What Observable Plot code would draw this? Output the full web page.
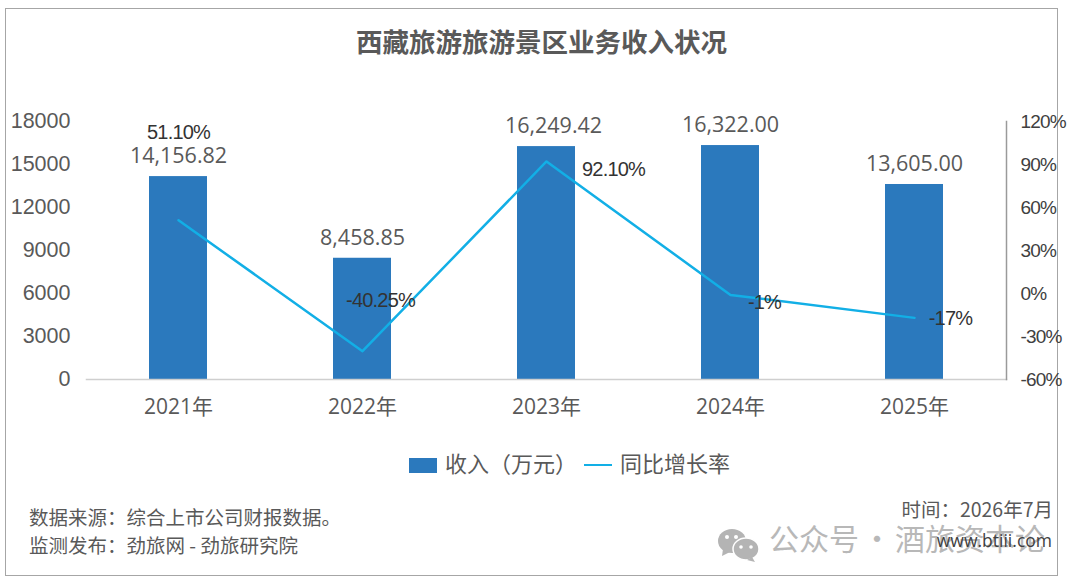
<!DOCTYPE html>
<html lang="zh">
<head>
<meta charset="utf-8">
<script src="https://cdn.jsdelivr.net/npm/d3@7"></script>
<script src="https://cdn.jsdelivr.net/npm/@observablehq/plot@0.6"></script>
<style>
html,body{margin:0;padding:0;background:#fff;width:1080px;height:582px;overflow:hidden}
body{font-family:"Noto Sans CJK SC",sans-serif;position:relative}
#frame{position:absolute;left:5px;top:8px;width:1051px;height:566px;border:1.5px solid #a6a6a6;box-sizing:content-box}
#title{position:absolute;left:5px;width:1073px;top:23px;text-align:center;font-size:26.5px;font-weight:700;color:#595959;line-height:36px}
#chart{position:absolute;left:0;top:100px}
.abs{position:absolute;white-space:nowrap}
#legend{left:409px;top:446px;color:#595959;font-size:22px;line-height:32px}
.foot{color:#595959;font-size:19.5px;line-height:26px}
#wm{left:769px;top:516px;font-size:30px;color:#b8b8b8;line-height:42px}
.narrow text{letter-spacing:-.8px}
</style>
</head>
<body>
<div id="frame"></div>
<div id="title">西藏旅游旅游景区业务收入状况</div>
<div id="chart"></div>
<div class="abs" id="legend"></div>
<div class="abs" id="wm">公众号<span style="margin:0 3px">·</span>酒旅资本论</div>
<svg class="abs" style="left:717px;top:527px" width="44" height="36" viewBox="0 0 44 36">
  <ellipse cx="15" cy="14" rx="14" ry="12" fill="#b4b4b4"/><path d="M6 22l-1 7 8-4z" fill="#b4b4b4"/>
  <ellipse cx="29" cy="22" rx="13" ry="11" fill="#b4b4b4" stroke="#fff" stroke-width="1.5"/><path d="M35 30l3 5-8-2z" fill="#b4b4b4"/>
  <circle cx="10" cy="10" r="2" fill="#fff"/><circle cx="19" cy="10" r="2" fill="#fff"/>
  <circle cx="24" cy="20" r="1.8" fill="#fff"/><circle cx="34" cy="20" r="1.8" fill="#fff"/>
</svg>
<div class="abs foot" style="left:29px;top:504px">数据来源：综合上市公司财报数据。</div>
<div class="abs foot" style="left:29px;top:532px">监测发布：劲旅网 - 劲旅研究院</div>
<div class="abs foot" style="right:27px;top:496px">时间：2026年7月</div>
<div class="abs" style="right:28px;top:527px;font:17.5px 'Open Sans',sans-serif;color:#404040;line-height:26px">www.btiii.com</div>
<script>
const years = ["2021年", "2022年", "2023年", "2024年", "2025年"];
const revenue = [14156.82, 8458.85, 16249.42, 16322.00, 13605.00];
const revenueLabels = ["14,156.82", "8,458.85", "16,249.42", "16,322.00", "13,605.00"];
const growth = [51.10, -40.25, 92.10, -1, -17];
const growthLabels = ["51.10%", "-40.25%", "92.10%", "-1%", "-17%"];
const leftTicks = [0, 3000, 6000, 9000, 12000, 15000, 18000];
const rightTicks = [-60, -30, 0, 30, 60, 90, 120];

const barColor = "#2b79bd";
const lineColor = "#12afe6";
const toLeft = p => (p + 60) * 100; // secondary axis: -60%..120% spans 0..18000
const rows = years.map((year, i) => ({
  year, revenue: revenue[i], label: revenueLabels[i],
  growth: toLeft(growth[i]), growthLabel: growthLabels[i]
}));

const pctLabel = (i, dx, dy) => Plot.text([rows[i]], {
  x: "year", y: "growth", text: "growthLabel", dx, dy, className: "narrow",
  fontFamily: "'Liberation Sans',sans-serif", fontSize: 20, fill: "#333333"
});
const revLabel = (i, dx) => Plot.text([rows[i]], {
  x: "year", y: "revenue", text: "label", dx, dy: -20, fontSize: 21.5, fill: "#595959",
  fontFamily: "'Open Sans',sans-serif"
});

const plot = Plot.plot({
  width: 1080, height: 324,
  marginTop: 21, marginBottom: 45, marginLeft: 86, marginRight: 74,
  style: {background: "transparent", overflow: "visible"},
  x: {type: "band", domain: years, paddingInner: 0.685, paddingOuter: 0.3425, label: null},
  y: {domain: [0, 18000], label: null},
  marks: [
    Plot.barY(rows, {x: "year", y: "revenue", fill: barColor}),
    Plot.frame({anchor: "bottom", stroke: "#cfcfcf", strokeWidth: 1.5}),
    Plot.frame({anchor: "right", stroke: "#9a9a9a", strokeWidth: 1.5}),
    Plot.axisX({tickSize: 0, tickPadding: 20, label: null, fontSize: 21, fill: "#595959",
      fontFamily: "'Open Sans','Noto Sans CJK SC',sans-serif"}),
    Plot.axisY({anchor: "left", ticks: leftTicks, tickFormat: d => String(d), tickSize: 0, tickPadding: 16,
      label: null, fontSize: 21.5, fill: "#595959", fontFamily: "'Liberation Sans',sans-serif"}),
    Plot.axisY({anchor: "right", ticks: rightTicks.map(toLeft), tickFormat: (d, i) => rightTicks[i] + "%",
      tickSize: 0, tickPadding: 14, label: null, fontSize: 19, fill: "#404040", className: "narrow",
      fontFamily: "'Liberation Sans',sans-serif"}),
    Plot.line(rows, {x: "year", y: "growth", stroke: lineColor, strokeWidth: 2.5, curve: "linear"}),
    revLabel(0, 0),
    revLabel(1, 0),
    revLabel(2, 7),
    revLabel(3, 0),
    revLabel(4, 0),
    pctLabel(0, 0, -88),
    pctLabel(1, 18, -51),
    pctLabel(2, 67, 8),
    pctLabel(3, 34, 8),
    pctLabel(4, 36, 1)
  ]
});
document.getElementById("chart").appendChild(plot);

document.getElementById("legend").innerHTML = `<span style="display:inline-block;width:28px;height:15px;background:${barColor};vertical-align:-1px;margin-right:8px"></span>收入（万元）<span style="display:inline-block;width:28px;height:2.5px;background:${lineColor};vertical-align:6px;margin:0 8px 0 7px"></span>同比增长率`;
</script>
</body>
</html>
